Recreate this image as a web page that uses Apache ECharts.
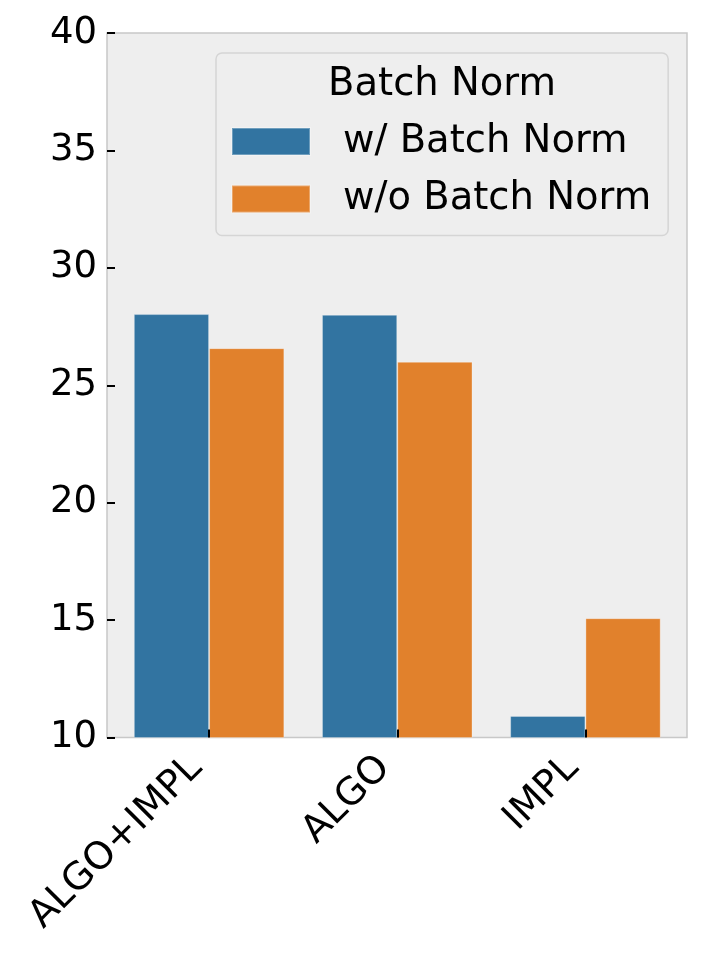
<!DOCTYPE html>
<html>
<head>
<meta charset="utf-8">
<script src="https://cdn.jsdelivr.net/npm/echarts@6/dist/echarts.min.js"></script>
<style>
  html, body { margin: 0; padding: 0; background: #fff; }
  #chart { width: 706px; height: 957px; }
</style>
</head>
<body>
<div id="chart"></div>
<script>
const categories = ['ALGO+IMPL', 'ALGO', 'IMPL']
const withBN = [28.03, 28.0, 10.92]
const withoutBN = [26.58, 26.0, 15.08]
const seriesNames = ['w/ Batch Norm', 'w/o Batch Norm']
const legendTitle = 'Batch Norm'
const yMin = 10
const yMax = 40
const yStep = 5

const font = 'DejaVu Sans'

const chart = echarts.init(document.getElementById('chart'))

const option = {
    animation: false,
    textStyle: { fontFamily: font },
    color: ['#3274a1', '#e1812c'],
    grid: [
        // bars
        { left: 115, right: 26.5, top: 33, bottom: 219.5 },
        // frame / background with y axis
        {
            left: 107, right: 19, top: 33, bottom: 219.5,
            show: true,
            backgroundColor: '#eeeeee',
            borderColor: '#c8c8c8',
            borderWidth: 1.5,
            z: -1
        }
    ],
    legend: {
        orient: 'vertical',
        left: 216,
        top: 53,
        padding: [69, 17, 17, 15],
        itemWidth: 78,
        itemHeight: 27,
        itemGap: 18.5,
        icon: 'rect',
        backgroundColor: '#eeeeee',
        borderColor: '#d5d5d5',
        borderWidth: 1.5,
        borderRadius: 6,
        textStyle: {
            fontFamily: font,
            fontSize: 38.5,
            color: '#000',
            padding: [0, 0, 0, 28]
        },
        data: seriesNames
    },
    graphic: [
        {
            type: 'text',
            x: 442,
            y: 85,
            z: 10,
            style: {
                text: legendTitle,
                fontFamily: font,
                fontSize: 38.5,
                fill: '#000',
                textAlign: 'center',
                textVerticalAlign: 'middle'
            }
        }
    ],
    xAxis: [
        {
            type: 'category',
            gridIndex: 0,
            data: categories,
            z: 5,
            axisLine: { show: false },
            axisTick: {
                show: true,
                alignWithLabel: true,
                inside: true,
                length: 8,
                lineStyle: { color: '#000', width: 2 }
            },
            axisLabel: {
                rotate: 45,
                fontFamily: font,
                fontSize: 38,
                color: '#000',
                margin: 12,
                padding: [0, 18, 0, 0]
            },
            splitLine: { show: false }
        },
        {
            type: 'category',
            gridIndex: 1,
            data: categories,
            show: false
        }
    ],
    yAxis: [
        {
            type: 'value',
            gridIndex: 0,
            min: yMin,
            max: yMax,
            interval: yStep,
            show: false
        },
        {
            type: 'value',
            gridIndex: 1,
            min: yMin,
            max: yMax,
            interval: yStep,
            axisLine: { show: false },
            axisTick: {
                show: true,
                inside: true,
                length: 8,
                lineStyle: { color: '#000', width: 2 }
            },
            axisLabel: {
                fontFamily: font,
                fontSize: 37,
                color: '#000',
                margin: 10
            },
            splitLine: { show: false }
        }
    ],
    series: [
        {
            name: seriesNames[0],
            type: 'bar',
            xAxisIndex: 0,
            yAxisIndex: 0,
            barGap: '0%',
            barCategoryGap: '20%',
            itemStyle: { borderColor: 'rgba(255,255,255,0.3)', borderWidth: 1 },
            data: withBN
        },
        {
            name: seriesNames[1],
            type: 'bar',
            xAxisIndex: 0,
            yAxisIndex: 0,
            barGap: '0%',
            barCategoryGap: '20%',
            itemStyle: { borderColor: 'rgba(255,255,255,0.3)', borderWidth: 1 },
            data: withoutBN
        }
    ]
}

chart.setOption(option)
</script>
</body>
</html>
